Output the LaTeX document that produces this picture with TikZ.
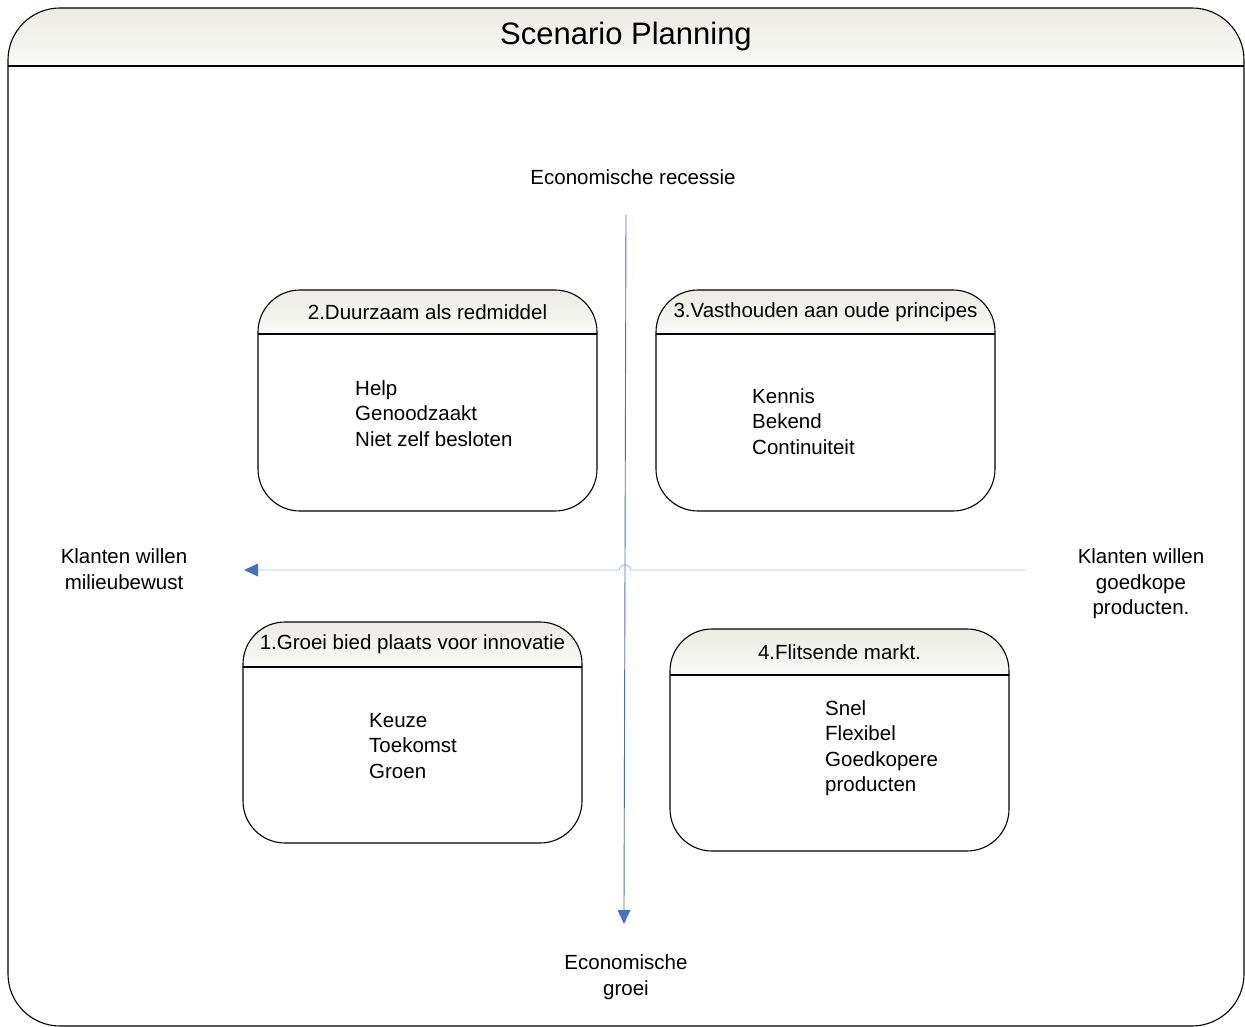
\documentclass[tikz,border=0pt]{standalone}
\usepackage{fontspec}
\setmainfont{Liberation Sans}
\usetikzlibrary{arrows.meta}
\definecolor{axisblue}{HTML}{4472C4}
\definecolor{axislight}{HTML}{A7BFE6}
\definecolor{headtop}{HTML}{ECECE3}
\definecolor{headbot}{HTML}{FAFAF7}

\tikzset{
  lbl/.style={font=\fontsize{20.5}{25.5}\selectfont, align=center, inner sep=0pt},
  items/.style={font=\fontsize{20.5}{25.5}\selectfont, align=left, anchor=north west, inner sep=0pt},
  boxline/.style={draw=black, line width=1.1pt},
  vaxis/.style={draw=axisblue, line width=0.9pt},
  haxis/.style={draw=axislight, line width=0.9pt},
  tiphead/.style={fill=axisblue}
}

% scenario box: name, x1, y1, x2, y2, header bottom, title
\newcommand{\scenbox}[7]{%
  \begin{scope}
    \clip[rounded corners=42pt] (#2,#3) rectangle (#4,#5);
    \shade[top color=headtop,bottom color=headbot] (#2,#3) rectangle (#4,#6);
  \end{scope}
  \draw[boxline,rounded corners=42pt] (#2,#3) rectangle (#4,#5);
  \draw[boxline] (#2,#6) -- (#4,#6);
  \node[lbl] (#1) at ({(#2+#4)/2},{(#3+#6)/2}) {#7};
}

\begin{document}
\begin{tikzpicture}[x=1pt,y=-1pt]
  \useasboundingbox (0,0) rectangle (1245,1027);

  % outer frame with title bar
  \begin{scope}
    \clip[rounded corners=52pt] (8,8) rectangle (1244,1026);
    \shade[top color=headtop,bottom color=headbot] (8,8) rectangle (1244,66);
  \end{scope}
  \draw[boxline,rounded corners=52pt] (8,8) rectangle (1244,1026);
  \draw[boxline] (8,66) -- (1244,66);
  \node[inner sep=0pt,font=\fontsize{31}{36}\selectfont] (title) at (626,36) {Scenario Planning};

  % axes (horizontal one hops over the vertical one)
  \coordinate (vT) at (626,215);
  \coordinate (vB) at (624,924);
  \coordinate (hR) at (1025,570);
  \coordinate (hL) at (244,570);
  \draw[haxis] (hR) -- (631,570) .. controls (630,563) and (620,563) .. (619,570) -- (258,570);
  \fill[tiphead] (hL) -- (258,563.5) -- (258,576.5) -- cycle;
  \draw[vaxis] (vT) -- (624,910);
  \fill[tiphead] (vB) -- (617.5,910) -- (630.5,910) -- cycle;

  % axis labels
  \node[lbl] (recessie) at (633,177) {Economische recessie};
  \node[lbl] (groei) at (626,977) {Economische\\groei};
  \node[lbl] (milieu) at (124,569) {Klanten willen\\milieubewust};
  \node[lbl] (goedkoop) at (1141,584) {Klanten willen\\goedkope\\producten.};

  % scenarios
  \scenbox{s2}{258}{290}{597}{511}{334}{2.Duurzaam als redmiddel}
  \node[items] (s2items) at (355,380) {Help\\Genoodzaakt\\Niet zelf besloten};

  \scenbox{s3}{656}{290}{995}{511}{334}{3.Vasthouden aan oude principes}
  \node[items] (s3items) at (752,388) {Kennis\\Bekend\\Continuiteit};

  \scenbox{s1}{243}{622}{582}{843}{667}{1.Groei bied plaats voor innovatie}
  \node[items] (s1items) at (369,713) {Keuze\\Toekomst\\Groen};

  \scenbox{s4}{670}{629}{1009}{851}{675}{4.Flitsende markt.}
  \node[items] (s4items) at (825,700) {Snel\\Flexibel\\Goedkopere\\producten};
\end{tikzpicture}
\end{document}
